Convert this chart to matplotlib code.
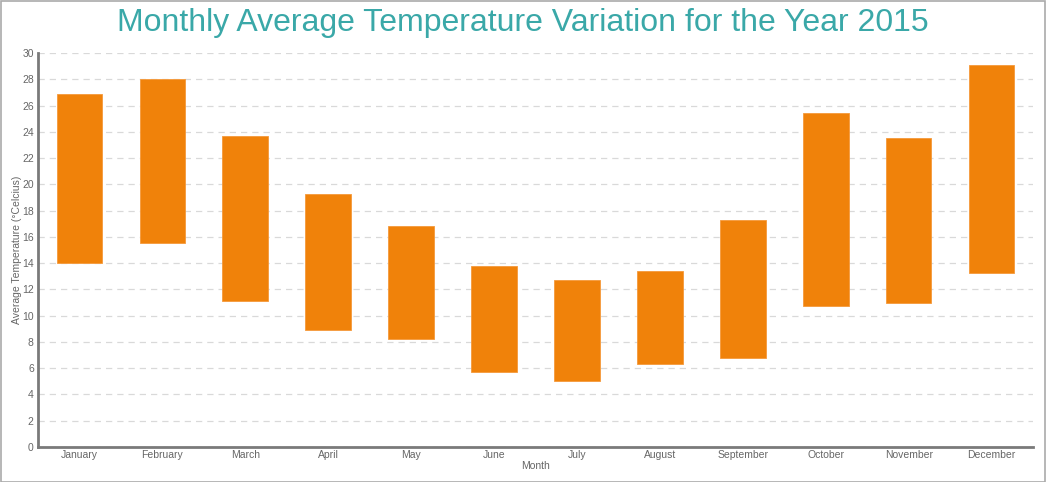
import matplotlib
matplotlib.use('Agg')
import matplotlib.pyplot as plt
import numpy as np

#Data
months = ["January", "February", "March", "April", "May", "June",
          "July", "August", "September", "October", "November", "December"]
low = [14.0, 15.5, 11.1, 8.9, 8.2, 5.7, 5.0, 6.3, 6.8, 10.7, 11.0, 13.25]
high = [26.9, 28.0, 23.7, 19.3, 16.8, 13.8, 12.7, 13.4, 17.3, 25.4, 23.5, 29.1]

plt.rcParams['font.family'] = ['Liberation Sans', 'DejaVu Sans']

fig = plt.figure(figsize=(10.46, 4.82), dpi=100)
ax = fig.add_axes([0.0363, 0.0726, 0.9513, 0.8174])

x = np.arange(len(months))
ax.bar(x, np.array(high) - np.array(low), bottom=low, width=0.55,
       color='#F0820A', edgecolor='#F5993A', linewidth=0.6, zorder=3)

ax.set_xlim(-0.5, 11.5)
ax.set_ylim(0, 30)
ax.set_yticks(np.arange(0, 31, 2))
ax.set_xticks(x)
ax.set_xticklabels(months)
ax.tick_params(axis='both', colors='#666666', labelsize=7.5, length=0, pad=3)
ax.tick_params(axis='x', pad=2)
ax.grid(axis='y', linestyle=(0, (5, 4)), color='#d9d9d9', linewidth=0.9, zorder=0)

for s in ['top', 'right']:
    ax.spines[s].set_visible(False)
ax.spines['left'].set_color('#7a7a7a')
ax.spines['left'].set_linewidth(2)
ax.spines['bottom'].set_color('#7a7a7a')
ax.spines['bottom'].set_linewidth(2)

ax.set_xlabel("Month", fontsize=7.5, color='#666666', labelpad=1)
ax.set_ylabel("Average Temperature (°Celcius)", fontsize=7.5, color='#666666', labelpad=0)

fig.text(0.5, 0.952, "Monthly Average Temperature Variation for the Year 2015",
         ha='center', va='center', fontsize=23, color='#3AA8A8')

# outer border
fig.patches.append(plt.Rectangle((0.001, 0.001), 0.998, 0.997, transform=fig.transFigure,
                                 fill=False, edgecolor='#aaaaaa', linewidth=1.2))

fig.savefig("out.png", dpi=100)
